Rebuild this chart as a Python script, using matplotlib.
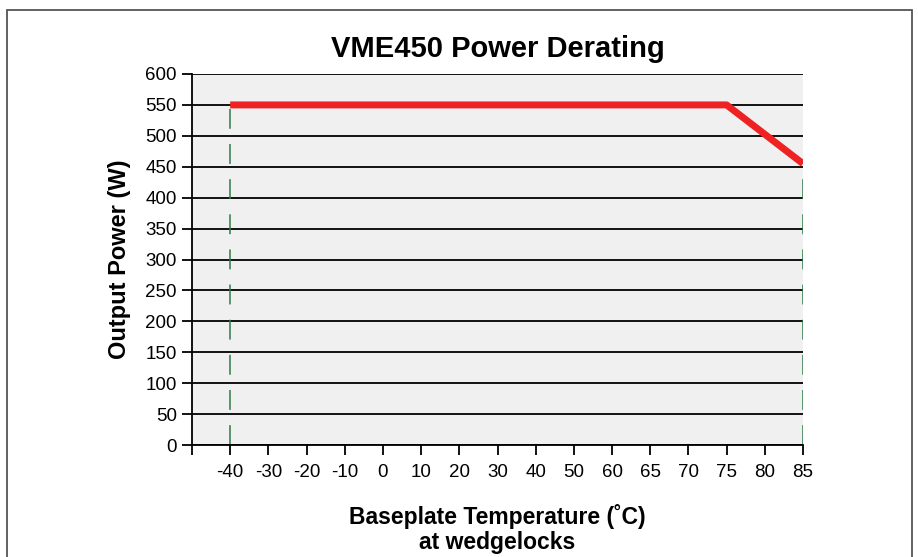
import matplotlib.pyplot as plt
from matplotlib.patches import Rectangle

plt.rcParams['font.family'] = ['Liberation Sans', 'DejaVu Sans']

# temperatures are placed on an even category scale, as in the original
temp_labels = ['-40', '-30', '-20', '-10', '0', '10', '20', '30', '40',
               '50', '60', '65', '70', '75', '80', '85']
curve_temps = ['-40', '75', '85']
curve_power = [550, 550, 455]
y_ticks = [0, 50, 100, 150, 200, 250, 300, 350, 400, 450, 500, 550, 600]

pos = {t: i for i, t in enumerate(temp_labels)}
cx = [pos[t] for t in curve_temps]

fig = plt.figure(figsize=(9.18, 5.57), dpi=100)
fig.patches.append(Rectangle((7 / 918, -0.1), (912 - 7) / 918, 1.1 - 10 / 557,
                             transform=fig.transFigure, fill=False,
                             edgecolor='#555555', linewidth=1.3))

ax = fig.add_axes([192 / 918, 1 - 445 / 557, (803 - 192) / 918, (445 - 74) / 557])
ax.set_facecolor('#f0f0f0')

for y in y_ticks:
    ax.axhline(y, color='#111111', linewidth=1.4, zorder=1)

# dashed guides at the ends of the curve
for x, y in [(cx[0], curve_power[0]), (cx[-1], curve_power[-1])]:
    ax.plot([x, x], [0, y], color='#2e7a46', linewidth=1.1, dashes=(13, 10), zorder=2)

ax.plot(cx, curve_power, color='#ee2222', linewidth=5, solid_capstyle='butt', zorder=3)

ax.set_xlim(-1, len(temp_labels) - 1)
ax.set_ylim(0, 600)
ax.set_xticks([-1] + list(range(len(temp_labels))))
ax.set_xticklabels([''] + temp_labels)
ax.set_yticks(y_ticks)

for s in ['top', 'right']:
    ax.spines[s].set_visible(False)
ax.spines['left'].set_linewidth(1.3)
ax.spines['bottom'].set_linewidth(1.3)
ax.tick_params(axis='both', labelsize=13.5, width=1.3, length=7, direction='out')
ax.tick_params(axis='x', pad=7)
ax.tick_params(axis='y', pad=4)

ax.set_title('VME450 Power Derating', fontsize=21, fontweight='bold', pad=12)
ax.set_ylabel('Output Power (W)', fontsize=17, fontweight='bold', labelpad=10)
ax.set_xlabel('Baseplate Temperature (˚C)\nat wedgelocks', fontsize=16.5,
              fontweight='bold', labelpad=16, linespacing=1.15)

fig.savefig('out.png', dpi=100)
